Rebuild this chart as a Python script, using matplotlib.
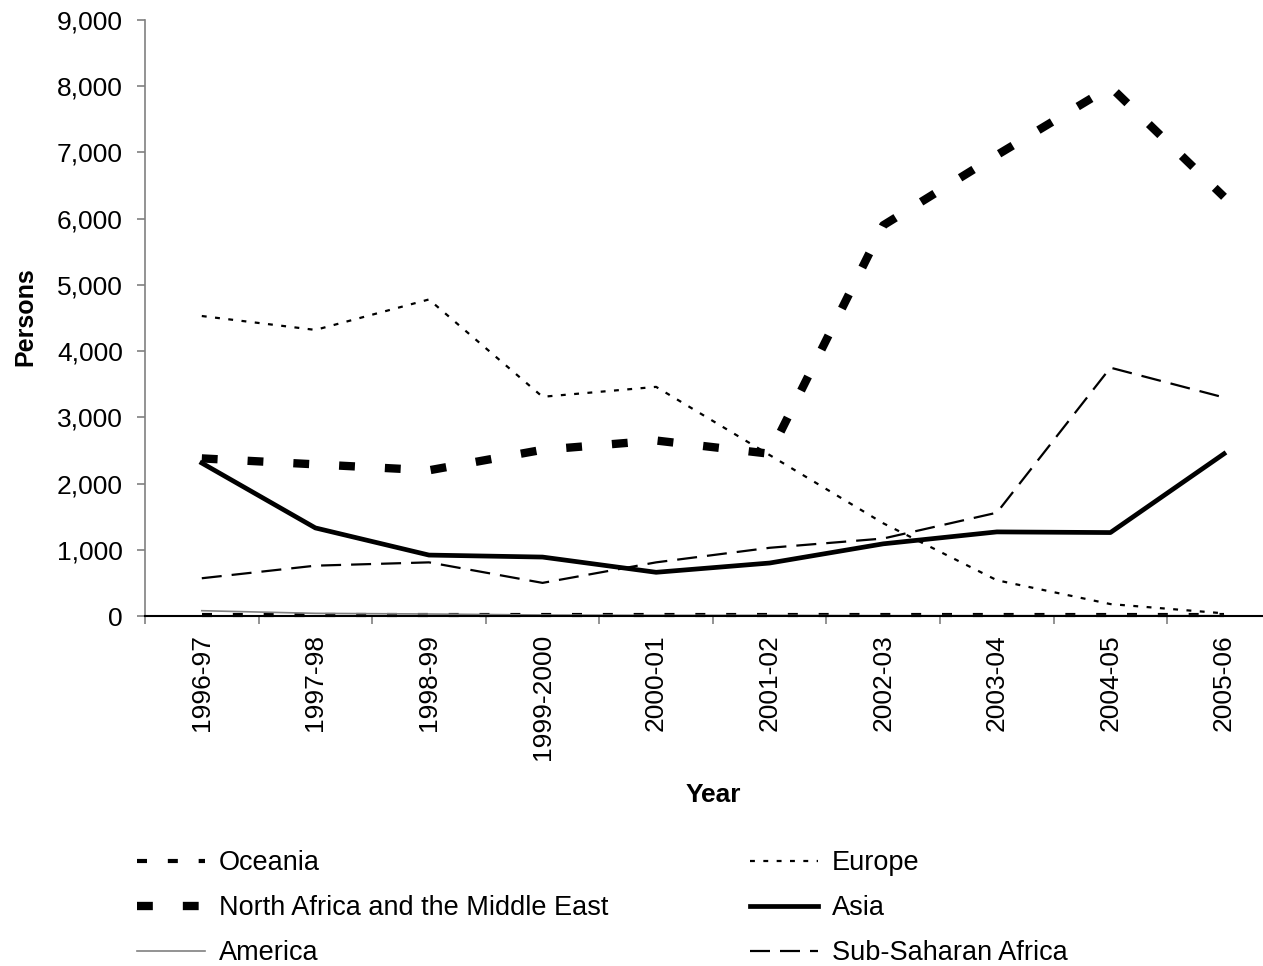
import matplotlib
matplotlib.use('Agg')
import matplotlib.pyplot as plt
from matplotlib.ticker import FixedLocator, FuncFormatter

plt.rcParams['font.family'] = ['Liberation Sans', 'DejaVu Sans']

anios = ['1996-97', '1997-98', '1998-99', '1999-2000', '2000-01',
         '2001-02', '2002-03', '2003-04', '2004-05', '2005-06']

oceania = [20, 20, 20, 20, 20, 20, 20, 20, 20, 20]
norte_africa = [2380, 2290, 2200, 2510, 2650, 2450, 5900, 6960, 7990, 6330]
america = [80, 40, 30, 15, 10, 10, 5, 5, 5, 5]
europa = [4530, 4320, 4780, 3310, 3460, 2430, 1400, 540, 180, 40]
asia = [2310, 1330, 920, 890, 660, 800, 1090, 1270, 1260, 2450]
africa_sub = [570, 760, 810, 500, 810, 1030, 1170, 1560, 3750, 3300]

fig = plt.figure(figsize=(12.63, 9.66), dpi=100)
ax = fig.add_axes([145 / 1263, 1 - 616 / 966, 1118 / 1263, 596 / 966])

x = list(range(len(anios)))

# series, drawn in legend order
l1, = ax.plot(x, oceania, color='black', lw=3, dashes=(2.4, 5.0), label='Oceania')
l2, = ax.plot(x, norte_africa, color='black', lw=6, dashes=(1.9, 3.6),
              label='North Africa and the Middle East')
l3, = ax.plot(x, america, color='#808080', lw=1.2, label='America')
l4, = ax.plot(x, europa, color='black', lw=1.6, dashes=(2.2, 3.8), label='Europe')
l5, = ax.plot(x, asia, color='black', lw=3.4, label='Asia')
l6, = ax.plot(x, africa_sub, color='black', lw=1.6, dashes=(9, 4.5), label='Sub-Saharan Africa')
for l in (l1, l2, l3, l4, l5, l6):
    l.set_clip_on(False)

ax.set_xlim(-0.5, 9 + 39 / 113.6)
ax.set_ylim(0, 9000)
ax.set_yticks(range(0, 9001, 1000))
ax.yaxis.set_major_formatter(FuncFormatter(lambda v, p: f'{int(v):,}'))

# ticks between categories, labels at the centres
ax.xaxis.set_major_locator(FixedLocator([i - 0.5 for i in range(11)]))
ax.xaxis.set_major_formatter(FuncFormatter(lambda v, p: ''))
ax.xaxis.set_minor_locator(FixedLocator(x))
ax.set_xticklabels(anios, minor=True, rotation=90)
ax.tick_params(axis='x', which='minor', length=0, pad=13, labelsize=19)
ax.tick_params(axis='x', which='major', length=6, color='#808080', width=1.2)
ax.tick_params(axis='y', length=6, color='#808080', width=1.2, labelsize=19, pad=10)

for s in ('top', 'right'):
    ax.spines[s].set_visible(False)
ax.spines['left'].set_color('#808080')
ax.spines['left'].set_linewidth(1.2)
ax.spines['bottom'].set_color('black')
ax.spines['bottom'].set_linewidth(1.5)

ax.set_ylabel('Persons', fontsize=18, fontweight='bold', va='center')
ax.yaxis.set_label_coords(-120 / 1118, 299 / 596)
ax.set_xlabel('Year', fontsize=19, fontweight='bold', va='center')
ax.xaxis.set_label_coords(568 / 1118, -179 / 596)

leg_kw = dict(frameon=False, fontsize=19.5, handlelength=2.52, handletextpad=0.5,
              labelspacing=0.71, borderpad=0, borderaxespad=0, loc='upper left')
fig.legend(handles=[l1, l2, l3], bbox_to_anchor=(137 / 1263, 1 - 850 / 966), **leg_kw)
fig.legend(handles=[l4, l5, l6], bbox_to_anchor=(750 / 1263, 1 - 850 / 966), **leg_kw)

fig.savefig('out.png', dpi=100)
